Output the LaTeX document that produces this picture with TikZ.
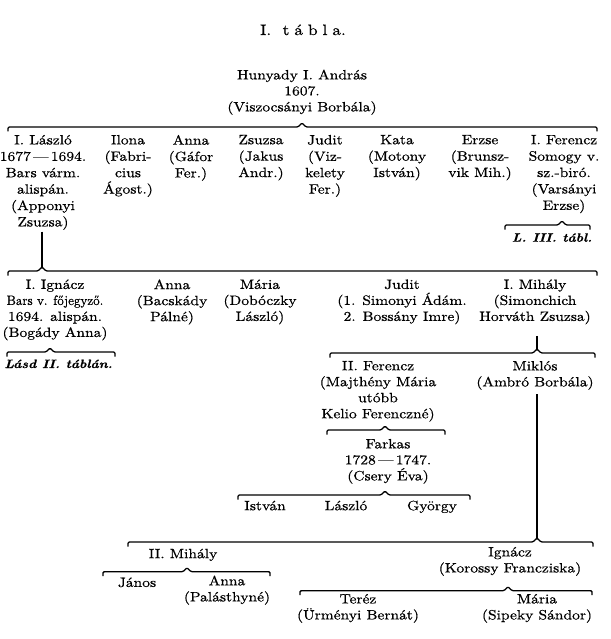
\documentclass[tikz,border=0pt]{standalone}
\usepackage{fontspec}
\setmainfont{lmroman10-regular.otf}[FakeStretch=1.15, FakeBold=0.6,
  BoldFont=lmroman10-bold.otf,
  ItalicFont=lmroman10-italic.otf,
  BoldItalicFont=lmroman10-bolditalic.otf]
\newcommand\tribrace[5]{% name, y, x1, x2, xpeak
  \coordinate (#1L) at (#3,#2);
  \coordinate (#1R) at (#4,#2);
  \coordinate (#1) at (#5,#2-4);
  \draw[famline] (#3,#2+4.5) -- (#1L) -- (#5-4,#2) -- (#1) -- (#5+4,#2) -- (#1R) -- (#4,#2+4.5);
}
\begin{document}
\begin{tikzpicture}[x=1pt,y=-1pt,
  gen/.style={anchor=north, yshift=11.2pt, inner sep=0pt, align=center,
    font=\fontsize{13.5}{16}\selectfont, execute at begin node=\strut},
  genwide/.style={gen, font=\fontsize{13.5}{16.4}\selectfont},
  ref/.style={anchor=base, inner sep=0pt, font=\fontsize{12}{14}\selectfont\bfseries\itshape},
  ttl/.style={anchor=base, inner sep=0pt, font=\fontsize{15}{18}\selectfont},
  famline/.style={line width=1.3pt, rounded corners=1.2pt},
  conn/.style={line width=1.1pt}]
\fill[white] (0,0) rectangle (610,639);
\useasboundingbox (0,0) rectangle (610,639);

\node[ttl] (title) at (303,35) {I.\ \ t\,\,á\,\,b\,\,l\,\,a.};

\node[gen] (hun) at (302,80.7) {Hunyady I. András\\1607.\\(Viszocsányi Borbála)};
\tribrace{b1}{127}{8}{597}{302}

% row 1
\node[genwide] (laszlo1) at (43,146) {I. László\\1677\,—\,1694.\\Bars várm.\\alispán.\\(Apponyi\\Zsuzsa)};
\node[genwide] (ilona) at (128,146) {Ilona\\(Fabri-\\cius\\Ágost.)};
\node[genwide] (anna1) at (191,146) {Anna\\(Gáfor\\Fer.)};
\node[genwide] (zsuzsa) at (261,146) {Zsuzsa\\(Jakus\\Andr.)};
\node[genwide] (judit1) at (325,146) {Judit\\(Viz-\\kelety\\Fer.)};
\node[genwide] (kata) at (397,146) {Kata\\(Motony\\István)};
\node[genwide] (erzse) at (480,146) {Erzse\\(Brunsz-\\vik Mih.)};
\node[genwide] (ferencz1) at (564,146) {I. Ferencz\\Somogy v.\\sz.-biró.\\(Varsányi\\Erzse)};
\tribrace{bf1}{225}{505}{590}{562}
\node[ref] (l3) at (552,241.7) {L. III. tábl.};

% row 2
\tribrace{b2}{271}{8}{597}{42}
\draw[conn] (b2 |- laszlo1.south) -- (b2);
\node[gen] (ignacz1) at (55,290.5) {I. Ignácz\\\scalebox{0.84}[1]{Bars v. főjegyző.}\\1694. alispán.\\(Bogády Anna)};
\node[gen] (anna2) at (172,290.5) {Anna\\(Bacskády\\Pálné)};
\node[gen] (maria2) at (260,290.5) {Mária\\(Dobóczky\\László)};
\node[gen] (judit2) at (402,290.5) {Judit\\(1. Simonyi Ádám.\\2. Bossány Imre)};
\node[gen] (mihaly1) at (535,290.5) {I. Mihály\\(Simonchich\\Horváth Zsuzsa)};
\tribrace{bi1}{352}{7}{115}{50}
\node[ref] (lasd) at (58.5,368) {Lásd II. táblán.};

% row 3
\tribrace{b3}{353}{330}{595}{537}
\draw[conn] ([yshift=-10pt]b3 |- mihaly1.south) -- (b3);
\node[gen] (ferencz2) at (378,372) {II. Ferencz\\(Majthény Mária\\utóbb\\Kelio Ferenczné)};
\node[gen] (miklos) at (535,372) {Miklós\\(Ambró Borbála)};
\tribrace{bf2}{430}{327}{445}{385}
\node[gen] (farkas) at (388,450) {Farkas\\1728\,—\,1747.\\(Csery Éva)};
\tribrace{bfa}{495}{238}{470}{385}
\node[gen] (istvan) at (265,510) {István};
\node[gen] (laszlo3) at (346,510) {László};
\node[gen] (gyorgy) at (432,510) {György};

% row 4
\tribrace{b4}{542}{128}{593}{537}
\draw[conn] ([yshift=-3pt]b4 |- miklos.south) -- (b4);
\node[gen] (mihaly2) at (183,558) {II. Mihály};
\tribrace{b5}{571.7}{103}{270}{187}
\node[gen] (janos) at (137,586.7) {János};
\node[gen] (anna3) at (227,586.7) {Anna\\(Palásthyné)};
\node[gen] (ignacz2) at (510,558) {Ignácz\\(Korossy Francziska)};
\tribrace{b6}{590.7}{300}{592}{508}
\node[gen] (terez) at (358,605) {Teréz\\(Ürményi Bernát)};
\node[gen] (maria3) at (537,605) {Mária\\(Sipeky Sándor)};
\end{tikzpicture}
\end{document}
